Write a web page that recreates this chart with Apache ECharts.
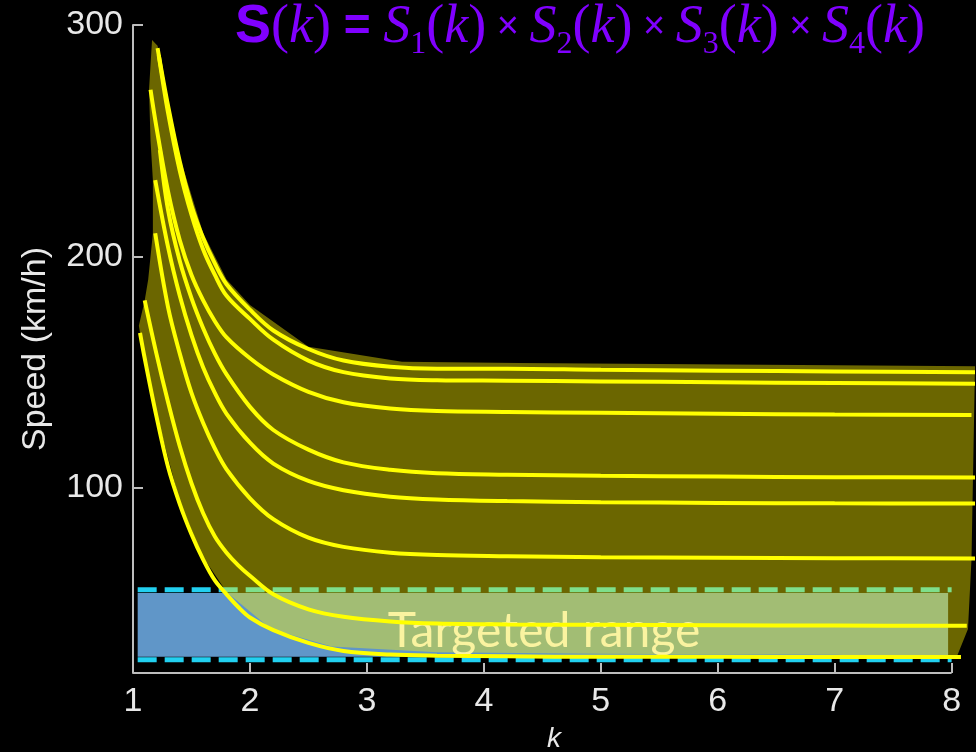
<!DOCTYPE html>
<html><head><meta charset="utf-8">
<script src="https://cdn.jsdelivr.net/npm/echarts@6/dist/echarts.min.js"></script>
<style>html,body{margin:0;padding:0;background:#000}#c{width:976px;height:752px}</style>
</head><body><div id="c"></div>
<script>
// ---- data ----
const xTicks = [1, 2, 3, 4, 5, 6, 7, 8];
const yTicks = [100, 200, 300];
const xAxisSpan = [[1, 20], [8, 20]];

const curveA = [[1.21,290],[1.3,265],[1.4,241],[1.5,222],[1.6,208],[1.7,197],[1.8,188],[2.0,177],[2.2,168],[2.5,160],[2.8,155],[3.2,152.3],[3.6,151.5],[4.2,151.5],[5,151],[6,150.6],[7,150.3],[8.2,150]];
const curveB = [[1.22,287],[1.3,262],[1.4,237],[1.5,218],[1.6,203],[1.7,192],[1.8,183],[2.0,173],[2.2,164],[2.5,155],[2.8,150],[3.2,147.3],[3.6,146.5],[4.2,146.3],[5,146],[6,145.6],[7,145.3],[8.2,145]];
const curveC = [[1.15,272],[1.2,256],[1.3,228],[1.4,207],[1.5,192],[1.6,181],[1.7,172],[1.8,165],[2.0,156],[2.2,149],[2.5,141.5],[2.8,137],[3.2,134.3],[3.6,133.2],[4.2,132.8],[5,132.4],[6,132],[7,131.7],[8.17,131.5]];
const curveD = [[1.23,246],[1.3,220],[1.4,198],[1.5,182],[1.6,169],[1.7,158],[1.8,149],[2.0,135],[2.2,125],[2.5,116.5],[2.8,111],[3.2,107.8],[3.6,106.3],[4.2,105.7],[5,105.2],[6,104.9],[7,104.6],[8.2,104.5]];
const curveE = [[1.19,233],[1.3,204],[1.4,183],[1.5,166],[1.6,152],[1.7,141],[1.8,132],[2.0,119.5],[2.2,110.5],[2.5,103],[2.8,99],[3.2,96.2],[3.6,95],[4.2,94.3],[5,93.8],[6,93.5],[7,93.3],[8.2,93.2]];
const curveF = [[1.19,210],[1.3,178],[1.4,158],[1.5,141],[1.6,128],[1.7,117],[1.8,108],[2.0,95.5],[2.2,86.5],[2.5,78.5],[2.8,74.5],[3.2,72],[3.6,71],[4.2,70.5],[5,70],[6,69.8],[7,69.6],[8.2,69.5]];
const curveG = [[1.10,181],[1.2,158],[1.3,137],[1.4,118],[1.5,102],[1.6,89],[1.7,79],[1.8,72],[1.9,66.5],[2.0,62],[2.2,54],[2.5,47.5],[2.8,44.3],[3.2,42.3],[3.6,41.4],[4.2,41],[5,40.8],[6,40.6],[7,40.5],[8.13,40.4]];
const curveH = [[1.06,167],[1.1,156],[1.2,131],[1.3,109],[1.4,93],[1.5,80],[1.6,69],[1.7,60],[1.8,54],[1.9,48.5],[2.0,44],[2.2,38.5],[2.5,33],[2.8,29.5],[3.2,28],[3.6,27.5],[4.2,27.2],[5,27],[6,27],[7,26.9],[8.08,26.9]];

const bandUpper = [[1.163,293.5],[1.21,291],[1.4,243],[1.6,210],[1.8,190],[2.0,179],[2.5,161],[3.3,154.5],[4.3,154],[5.5,153.5],[7,153],[8.2,152.5]];
const bandRight = [[8.17,69],[8.14,39]];
const bandLower = [[1.06,167],[1.2,132],[1.4,94],[1.6,70],[1.8,55],[2.18,39],[2.7,31.5],[3.6,29],[5,28.3],[7,27.9],[8.04,26.5]];
const bandLeft = [[1.05,170],[1.10,181],[1.13,190],[1.17,210],[1.17,233],[1.15,250],[1.137,272]];

const targetBox = [1.04, 27, 7.97, 54.6];          // k0, v0, k1, v1
const targetDashTop = [[1.04,56],[8.0,56]];
const targetDashBottom = [[1.04,25.7],[8.0,25.7]];

// ---- chart ----
const bandPolygon = bandUpper.concat(bandRight, bandLower.slice().reverse(), bandLeft);
const curves = [curveA, curveB, curveC, curveD, curveE, curveF, curveG, curveH];

const purple = '#8000ff';
const titleRich = {
  b: {fontFamily: '"Liberation Sans Narrow","Liberation Sans",sans-serif', fontWeight: 'bold', fontSize: 54, color: purple, lineHeight: 67},
  e: {fontFamily: '"Liberation Sans",sans-serif', fontWeight: 'bold', fontSize: 46, color: purple, lineHeight: 67},
  p: {fontFamily: '"Liberation Serif",serif', fontWeight: 'normal', fontSize: 54, color: purple, lineHeight: 67},
  i: {fontFamily: '"Liberation Serif",serif', fontWeight: 'normal', fontStyle: 'italic', fontSize: 54, color: purple, lineHeight: 67},
  x: {fontFamily: '"Liberation Sans",sans-serif', fontWeight: 'normal', fontSize: 38, color: purple, lineHeight: 67},
  s: {fontFamily: '"Liberation Serif",serif', fontWeight: 'normal', fontSize: 32, color: purple, lineHeight: 32, padding: [35, 0, 0, 0]}
};
const grp = n => '{i|S}{s|' + n + '}{p|(}{i|k}{p|)}';
const titleText = '{b|S}{p|(}{i|k}{p|)}{e| = }' + grp(1) + '{x| × }' + grp(2) + '{x| × }' + grp(3) + '{x| × }' + grp(4);

const axisCol = '#bdbdbd';
const labCol = '#e8e8e8';

const series = [];
series.push({
  type: 'custom', z: 1, silent: true,
  data: [targetBox],
  renderItem: (p, api) => {
    const a = api.coord([api.value(0), api.value(1)]);
    const b = api.coord([api.value(2), api.value(3)]);
    return {type: 'rect', shape: {x: a[0], y: b[1], width: b[0] - a[0], height: a[1] - b[1]}, style: {fill: '#6096c8'}};
  }
});
[targetDashTop, targetDashBottom].forEach(d => series.push({
  type: 'line', z: 1, silent: true, symbol: 'none', data: d,
  lineStyle: {color: '#22d0f0', width: 5, type: [19, 8]}
}));
series.push({
  type: 'custom', z: 2, silent: true,
  data: bandPolygon,
  renderItem: (p, api) => {
    if (p.dataIndex !== 0) return null;
    return {type: 'polygon', shape: {points: bandPolygon.map(pt => api.coord(pt))}, style: {fill: 'rgba(255,242,0,0.42)'}};
  }
});
curves.forEach(c => series.push({
  type: 'line', z: 4, silent: true, symbol: 'none', smooth: 0.35, data: c,
  lineStyle: {color: '#ffff00', width: 4}
}));
series.push({
  type: 'line', z: 5, silent: true, symbol: 'none', data: xAxisSpan, clip: false,
  lineStyle: {color: axisCol, width: 2}
});

const chart = echarts.init(document.getElementById('c'), null, {renderer: 'canvas'});
chart.setOption({
  backgroundColor: '#000',
  animation: false,
  title: {text: titleText, left: 230, top: -11, textStyle: {fontWeight: 'normal', rich: titleRich}},
  grid: {left: 133, top: 25, width: 842, height: 648, containLabel: false, outerBoundsMode: 'none'},
  xAxis: {
    type: 'value', min: 1, max: 8.2,
    axisLine: {show: false},
    axisTick: {show: true, inside: true, length: 10, customValues: xTicks, lineStyle: {color: axisCol, width: 2}},
    axisLabel: {customValues: xTicks, color: labCol, fontSize: 34, fontFamily: '"Liberation Sans",Arial,sans-serif', margin: 12},
    splitLine: {show: false},
    name: 'k', nameLocation: 'middle', nameGap: 52,
    nameTextStyle: {fontStyle: 'italic', fontSize: 28, color: labCol, fontFamily: '"Liberation Sans",Arial,sans-serif'}
  },
  yAxis: {
    type: 'value', min: 20, max: 300,
    axisLine: {show: true, lineStyle: {color: axisCol, width: 2}},
    axisTick: {show: true, inside: true, length: 10, customValues: yTicks, lineStyle: {color: axisCol, width: 2}},
    axisLabel: {customValues: yTicks, color: labCol, fontSize: 34, fontFamily: '"Liberation Sans",Arial,sans-serif', margin: 10},
    splitLine: {show: false},
    name: 'Speed (km/h)', nameLocation: 'middle', nameGap: 80,
    nameTextStyle: {fontSize: 34, color: labCol, fontFamily: '"Liberation Sans",Arial,sans-serif'}
  },
  graphic: [{
    type: 'text', z: 3, x: 544, y: 632, silent: true,
    style: {text: 'Targeted range', fill: '#faf3a0', font: '48px Lato', textAlign: 'center', textVerticalAlign: 'middle'}
  }],
  series: series
});
</script></body></html>
